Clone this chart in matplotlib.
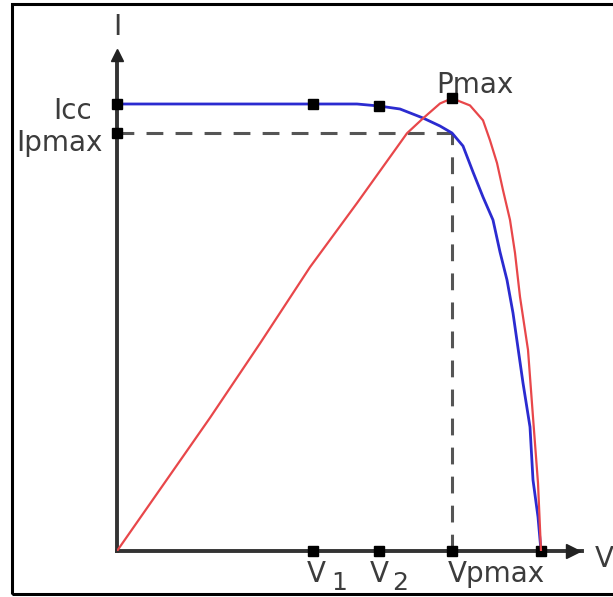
import matplotlib
matplotlib.use("Agg")
import matplotlib.pyplot as plt
from matplotlib.patches import Rectangle
from matplotlib.transforms import offset_copy


# =============== DATA ===============

# I-V curve (blue)
V_IV = [0, 9.75, 12.0, 13.1, 14.15, 15.3, 16.15, 16.75, 17.3, 17.8, 18.3,
        18.8, 19.15, 19.5, 19.8, 20.3, 20.65, 20.8, 21.05, 21.2]
I_IV = [4.47, 4.47, 4.47, 4.45, 4.42, 4.33, 4.25, 4.18, 4.05, 3.79, 3.54,
        3.31, 2.99, 2.71, 2.38, 1.68, 1.24, 0.71, 0.34, 0.0]

# P-V curve (red)
V_PV = [0, 4.65, 7.15, 9.65, 12.0, 14.5, 15.3, 16.15, 16.75, 17.65, 18.3,
        18.65, 19.0, 19.3, 19.65, 19.9, 20.15, 20.55, 20.8, 21.05, 21.2]
P_PV = [0, 20.6, 32.1, 43.9, 53.8, 64.6, 66.9, 69.2, 70.0, 68.9, 66.6,
        63.5, 60.0, 55.8, 51.2, 46.1, 39.3, 31.1, 20.7, 10.5, 0]

# characteristic points
V1, V2, VPMAX, VOC = 9.8, 13.1, 16.75, 21.2
I_V1, I_V2 = 4.47, 4.45
ICC, IPMAX = 4.47, 4.18
PMAX = 70.0

# axis ranges
V_END, V_ARROW = 23.25, 22.8
I_TOP = 4.96
P_TOP = 76.7

# =============== STYLE ===============

W, H = 613, 597
BLUE = "#2b2bd0"
RED = "#e8474a"
AXIS = "#333333"
TXT = "#3c3c3c"
FS = 20

fig = plt.figure(figsize=(W / 100, H / 100), dpi=100)
fig.patch.set_facecolor("white")

ax = fig.add_axes([117 / W, (H - 551) / H, (582 - 117) / W, (551 - 55) / H])
ax.set_xlim(0, V_END)
ax.set_ylim(0, I_TOP)
ax.patch.set_alpha(0)
ax.set_xticks([])
ax.set_yticks([])
for s in ["top", "right"]:
    ax.spines[s].set_visible(False)
for s in ["left", "bottom"]:
    ax.spines[s].set_color(AXIS)
    ax.spines[s].set_linewidth(2.8)

ax2 = ax.twinx()
ax2.set_ylim(0, P_TOP)
ax2.set_yticks([])
for s in ax2.spines.values():
    s.set_visible(False)

# dashed guide lines at the max power point
dash = dict(color="#555555", lw=2.2, dashes=(5.5, 4), zorder=2)
ax.plot([0, VPMAX], [IPMAX, IPMAX], **dash)
ax.plot([VPMAX, VPMAX], [0, IPMAX], **dash)

# curves
ax.plot(V_IV, I_IV, color=BLUE, lw=2.0, zorder=3)
ax2.plot(V_PV, P_PV, color=RED, lw=1.6, zorder=3)

# square markers
mk = dict(marker="s", ms=6.5, color="black", ls="none", zorder=5, clip_on=False)
ax.plot([V1, V2, VPMAX, VOC], [0, 0, 0, 0], **mk)
ax.plot([0, 0], [ICC, IPMAX], **mk)
ax.plot([V1, V2], [I_V1, I_V2], **mk)
ax2.plot([VPMAX], [PMAX], **mk)

# arrow heads
ax.plot([0], [I_TOP], marker="^", ms=9, color="#222222", clip_on=False, zorder=5)
ax.plot([V_ARROW], [0], marker=">", ms=10, color="#222222", clip_on=False, zorder=5)


def label(axe, x, y, s, dx, dy, ha="left", fs=FS):
    tr = offset_copy(axe.transData, fig=fig, x=dx, y=dy, units="dots")
    axe.text(x, y, s, transform=tr, ha=ha, va="baseline", fontsize=fs,
             color=TXT, family="DejaVu Sans", clip_on=False)


label(ax, 0, I_TOP, "I", 0, 20, ha="center")
label(ax, 0, ICC, "Icc", -25, -15, ha="right")
label(ax, 0, IPMAX, "Ipmax", -14, -18, ha="right")
label(ax2, VPMAX, PMAX, "Pmax", -16, 5)

label(ax, V1, 0, "V", -6, -31)
label(ax, V1, 0, "1", 18, -39, fs=18)
label(ax, V2, 0, "V", -9, -31)
label(ax, V2, 0, "2", 13, -39, fs=18)
label(ax, VPMAX, 0, "Vpmax", -4, -31)
label(ax, V_END, 0, "V", 13, -16)

# outer frame
fig.add_artist(Rectangle((12 / W, (H - 594) / H), (W + 20) / W, 590 / H,
                         transform=fig.transFigure, fill=False, lw=2.2,
                         ec="black"))

fig.savefig("out.png", dpi=100)
